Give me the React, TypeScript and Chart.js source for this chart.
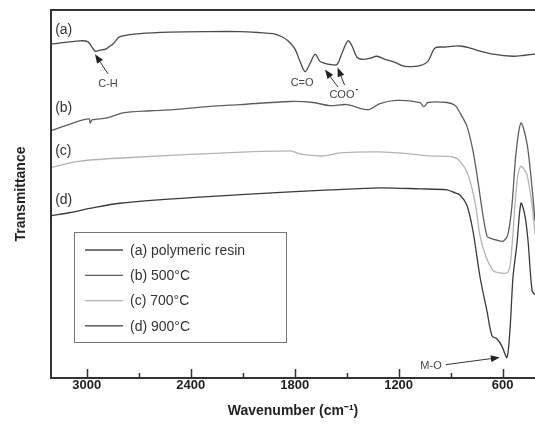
import React, { useEffect, useRef } from 'react';
import { Chart, registerables } from 'chart.js';
Chart.register(...registerables);

// Wavenumber (cm-1) and transmittance (arbitrary units, offset curves)
const wnA = [3200, 3039, 2992, 2952, 2923, 2890, 2865, 2848, 2808, 2692, 2519, 2306, 2115, 2000, 1925, 1873, 1838, 1798, 1769, 1740, 1711, 1682, 1654, 1625, 1596, 1556, 1527, 1492, 1469, 1440, 1406, 1365, 1325, 1279, 1221, 1181, 1146, 1077, 1031, 990, 932, 846, 788, 730, 655, 540, 471, 413];
const tA = [325, 328, 327, 318, 319, 320, 323, 325, 332, 335, 336.5, 337, 337, 336, 335, 332, 328, 320, 308, 298, 306, 315, 308, 306, 305, 305, 316, 328, 323, 312, 310, 311, 313, 310, 307, 304, 303, 304, 308, 321, 322, 323, 321, 318, 315, 313, 314, 315];

const wnB = [3200, 3096, 3021, 2986, 2980, 2969, 2883, 2790, 2635, 2502, 2306, 2115, 1826, 1693, 1596, 1498, 1377, 1308, 1210, 1077, 1054, 1031, 921, 874, 846, 806, 771, 742, 713, 690, 673, 632, 598, 569, 546, 523, 494, 459, 430, 413];
const tB = [241, 247, 251, 252, 248, 251, 253, 258, 260, 261, 264, 266, 269, 268, 265, 266, 261, 267, 270, 268, 264, 268, 268, 265, 258, 245, 221, 191, 158, 138, 136, 134, 133, 140, 168, 218, 248, 228, 185, 153];

const wnC = [3200, 3039, 2692, 2346, 1826, 1769, 1636, 1538, 1308, 1135, 1019, 886, 846, 800, 759, 730, 696, 661, 638, 569, 546, 529, 511, 494, 476, 459, 430, 413];
const tC = [205, 211, 215, 218, 221, 218, 216, 219, 220, 218, 216, 215, 211, 198, 171, 138, 118, 106, 103, 103, 128, 168, 198, 206, 203, 198, 168, 140];

const wnD = [3200, 3096, 2981, 2808, 2346, 1826, 1596, 1308, 1077, 921, 874, 846, 806, 771, 730, 690, 661, 632, 604, 575, 557, 540, 517, 494, 471, 453, 430, 413];
const tD = [158, 161, 165, 170, 176, 181, 183, 185, 184, 183, 180, 178, 168, 143, 98, 65, 41, 38, 31, 20, 48, 98, 131, 170, 158, 133, 85, 81];

const seriesLabels = ['(a) polymeric resin', '(b) 500°C', '(c) 700°C', '(d) 900°C'];
const seriesColors = ['#4a4a4a', '#5e5e5e', '#b4b4b4', '#3a3a3a'];

const tickValues = [3000, 2700, 2400, 2100, 1800, 1500, 1200, 900, 600];
const majorTicks = [3000, 2400, 1800, 1200, 600];

// curve tags: text, wavenumber, value
const tagText = ['(a)', '(b)', '(c)', '(d)'];
const tagWn = [3182, 3182, 3182, 3182];
const tagVal = [338, 263, 221, 173];

// band annotations: text, wavenumber, value (centre)
const bandText = ['C-H', 'C=O', 'COO', 'M-O'];
const bandWn = [2877, 1757, 1527, 1013];
const bandVal = [286, 287, 275, 12];

// arrows: [tailWn, tailVal, headWn, headVal]
const arrows = [
  [2877, 296, 2952, 315],
  [1550, 283, 1625, 300],
  [1512, 285, 1552, 302],
  [927, 13, 616, 20],
];

function drawArrow(ctx: CanvasRenderingContext2D, x1: number, y1: number, x2: number, y2: number) {
  const ang = Math.atan2(y2 - y1, x2 - x1);
  const hl = 9, hw = 3.5;
  const bx = x2 - hl * Math.cos(ang), by = y2 - hl * Math.sin(ang);
  ctx.beginPath();
  ctx.moveTo(x1, y1);
  ctx.lineTo(bx, by);
  ctx.stroke();
  ctx.beginPath();
  ctx.moveTo(x2, y2);
  ctx.lineTo(bx + hw * Math.sin(ang), by - hw * Math.cos(ang));
  ctx.lineTo(bx - hw * Math.sin(ang), by + hw * Math.cos(ang));
  ctx.closePath();
  ctx.fill();
}

const overlay = {
  id: 'overlay',
  afterDraw(chart: any) {
    const { ctx, chartArea: ca, scales } = chart;
    const x = scales.x, y = scales.y;
    ctx.save();
    // top frame line
    ctx.strokeStyle = '#333';
    ctx.lineWidth = 2;
    ctx.beginPath();
    ctx.moveTo(ca.left - 1, ca.top);
    ctx.lineTo(ca.right, ca.top);
    ctx.stroke();
    // inward ticks
    ctx.lineWidth = 1.5;
    for (const v of tickValues) {
      const px = Math.round(x.getPixelForValue(v)) + 0.5;
      const len = majorTicks.includes(v) ? 9 : 5;
      ctx.beginPath();
      ctx.moveTo(px, ca.bottom);
      ctx.lineTo(px, ca.bottom - len);
      ctx.stroke();
    }
    // curve tags
    ctx.fillStyle = '#333';
    ctx.font = '14px "Liberation Sans", Arial, sans-serif';
    ctx.textBaseline = 'middle';
    ctx.textAlign = 'left';
    tagText.forEach((t, i) => {
      ctx.fillText(t, x.getPixelForValue(tagWn[i]), y.getPixelForValue(tagVal[i]));
    });
    // band labels
    ctx.font = '11px "Liberation Sans", Arial, sans-serif';
    ctx.textAlign = 'center';
    ctx.fillStyle = '#444';
    bandText.forEach((t, i) => {
      const px = x.getPixelForValue(bandWn[i]);
      const py = y.getPixelForValue(bandVal[i]);
      ctx.fillText(t, px, py);
      if (t === 'COO') {
        const w = ctx.measureText(t).width;
        ctx.font = 'bold 9px "Liberation Sans", Arial, sans-serif';
        ctx.textAlign = 'left';
        ctx.fillText('-', px + w / 2 + 1, py - 6);
        ctx.font = '11px "Liberation Sans", Arial, sans-serif';
        ctx.textAlign = 'center';
      }
    });
    // arrows
    ctx.strokeStyle = '#333';
    ctx.fillStyle = '#222';
    ctx.lineWidth = 1;
    arrows.forEach((a) => {
      drawArrow(ctx, x.getPixelForValue(a[0]), y.getPixelForValue(a[1]), x.getPixelForValue(a[2]), y.getPixelForValue(a[3]));
    });
    // legend box
    const lx = 74, ly = 232, lw = 212, lh = 110;
    ctx.strokeStyle = '#777';
    ctx.lineWidth = 1;
    ctx.strokeRect(lx + 0.5, ly + 0.5, lw, lh);
    ctx.font = '14px "Liberation Sans", Arial, sans-serif';
    ctx.textAlign = 'left';
    ctx.textBaseline = 'middle';
    chart.data.datasets.forEach((ds: any, i: number) => {
      const ry = ly + 18 + i * 25.3;
      ctx.strokeStyle = ds.borderColor;
      ctx.lineWidth = 1.3;
      ctx.beginPath();
      ctx.moveTo(lx + 11, ry);
      ctx.lineTo(lx + 49, ry);
      ctx.stroke();
      ctx.fillStyle = '#333';
      ctx.fillText(ds.label, lx + 56, ry + 1);
    });
    ctx.restore();
  },
};

export default function App() {
  const ref = useRef<HTMLCanvasElement>(null);
  useEffect(() => {
    if (!ref.current) return;
    const mk = (wn: number[], t: number[]) => wn.map((w, i) => ({ x: w, y: t[i] }));
    const all = [mk(wnA, tA), mk(wnB, tB), mk(wnC, tC), mk(wnD, tD)];
    const chart = new Chart(ref.current, {
      type: 'line',
      data: {
        datasets: all.map((d, i) => ({
          label: seriesLabels[i],
          data: d,
          borderColor: seriesColors[i],
          borderWidth: 1.3,
          pointRadius: 0,
          tension: 0.3,
          fill: false,
        })),
      },
      options: {
        animation: false,
        responsive: false,
        events: [],
        layout: { padding: { left: 0, right: 0, top: 10, bottom: 0 } },
        plugins: { legend: { display: false }, tooltip: { enabled: false } },
        scales: {
          x: {
            type: 'linear',
            reverse: true,
            min: 413,
            max: 3206,
            afterBuildTicks: (s: any) => {
              s.ticks = tickValues.map((v) => ({ value: v }));
            },
            afterFit: (s: any) => {
              s.height = 48;
            },
            ticks: {
              autoSkip: false,
              maxRotation: 0,
              padding: 0,
              color: '#222',
              font: { family: '"Liberation Sans", Arial, sans-serif', size: 13, weight: 'bold' },
              callback: (v: any) => (majorTicks.includes(Number(v)) ? String(v) : ''),
            },
            grid: { drawOnChartArea: false, drawTicks: false, color: 'rgba(0,0,0,0)' },
            border: { display: true, width: 2, color: '#333' },
            title: {
              display: true,
              text: 'Wavenumber (cm⁻¹)',
              color: '#222',
              font: { family: '"Liberation Sans", Arial, sans-serif', size: 14, weight: 'bold' },
              padding: { top: 2, bottom: 6 },
            },
          },
          y: {
            type: 'linear',
            min: 0,
            max: 358,
            afterFit: (s: any) => {
              s.width = 51;
            },
            ticks: { display: false },
            grid: { drawOnChartArea: false, drawTicks: false, color: 'rgba(0,0,0,0)' },
            border: { display: true, width: 2, color: '#333' },
            title: {
              display: true,
              text: 'Transmittance',
              color: '#222',
              font: { family: '"Liberation Sans", Arial, sans-serif', size: 14, weight: 'bold' },
              padding: { top: 13, bottom: 0 },
            },
          },
        },
      },
      plugins: [overlay],
    } as any);
    return () => chart.destroy();
  }, []);
  return (
    <div style={{ position: 'fixed', left: 0, top: 0, width: 535, height: 426, background: '#fff' }}>
      <canvas ref={ref} width={535} height={426} style={{ display: 'block' }} />
    </div>
  );
}
